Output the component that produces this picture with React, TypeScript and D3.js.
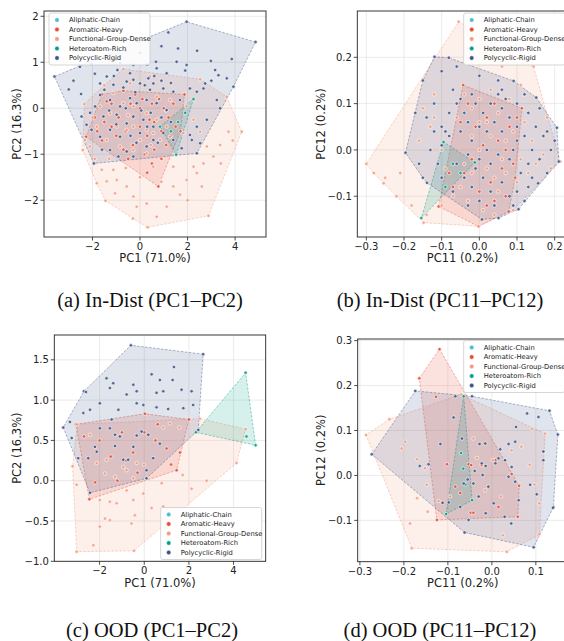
import React from "react";
import * as d3 from "d3";

type P = [number, number];

const CATEGORIES = ["Aliphatic-Chain", "Aromatic-Heavy", "Functional-Group-Dense", "Heteroatom-Rich", "Polycyclic-Rigid"];
const COLORS = ["#4DBBD5", "#E64B35", "#F39B7F", "#00A087", "#3C5488"];

// ---------- Panel (a) In-Dist PC1-PC2 ----------
const aAliphatic: P[] = [];
const aAromatic: P[] = [
  [-0.7, 0.38], [1.87, 0.3], [1.7, -0.5], [0.77, -1.7], [-2.27, -0.62], [-1.6, 0.3],
  [-1.2, 0.1], [-0.9, -0.2], [-0.6, -0.5], [-0.3, -0.2], [0, -0.4], [0.3, -0.6], [0.6, -0.3], [0.9, -0.5],
  [1.2, -0.2], [1.4, 0.1], [0.5, 0.1], [0.1, 0.2], [-0.4, 0.1], [-1.5, -0.3], [-1.0, -0.6], [-0.3, -0.8],
  [0.2, -1.0], [0.5, -1.2], [0.6, -0.9], [-0.7, -0.9], [1.1, -0.8], [0.9, -1.1], [-1.8, -0.5], [-1.2, -0.4],
  [0.0, 0.0], [0.8, 0.2], [1.5, -0.4],
  [-1.9, -0.2], [-1.4, 0.15], [-0.2, 0.3], [0.4, -0.25], [1.0, 0.0], [1.3, -0.6], [-0.5, -1.1], [0.3, -1.4], [-1.6, -0.7],
];
const aFunctional: P[] = [
  [-0.7, 0.85], [2.53, 0.63], [3.65, 0.25], [4.28, -0.51], [2.88, -2.34], [0.32, -2.59], [-1.45, -2.01],
  [-2.41, -0.91], [-2.34, 0.09],
  [-1.61, -1.34], [-1.12, -1.34], [-1.82, -1.63], [-1.4, -1.59], [-1.05, -1.85], [-0.56, -1.7], [-0.28, -1.92],
  [-0.14, -2.14], [0.28, -2.07], [0.7, -2.36], [1.12, -2.14], [1.68, -1.88], [1.96, -1.56], [2.25, -1.27],
  [2.67, -1.2], [2.39, -1.41], [3.37, -0.8], [3.72, -0.51], [3.09, -1.05], [2.53, -0.51], [2.81, -0.83],
  [-0.98, -1.56], [0.56, -1.27], [1.4, -1.27], [-2.11, -0.83], [-2.32, -0.69],
  [-1.68, 0.04], [-1.26, -0.11], [-0.98, -0.4], [-0.56, -0.47], [-0.28, -0.4], [0, -0.69], [0.28, -0.47],
  [0.56, -0.54], [0.84, -0.69], [1.12, -0.4], [1.26, -0.62], [0.7, -0.25], [0.28, -0.11], [-0.28, 0.04],
  [-0.7, 0.11], [-1.12, 0.33], [0.7, 0.25], [1.26, 0.18], [1.96, 0.04], [2.25, -0.25], [1.82, -0.54],
  [-0.84, -0.83], [-0.28, -0.91], [0.28, -0.98], [-1.4, -0.69], [-1.82, -0.4], [-0.42, 0.54], [0.42, 0.69],
  [-1.9, -1.1], [-1.3, -1.1], [-0.6, -1.3], [0.0, -1.5], [0.9, -1.6], [1.4, -1.7], [2.0, -2.0], [2.6, -1.7],
  [3.4, -1.2], [3.9, -0.7], [-0.3, -2.4], [1.1, -0.05], [-0.5, -0.15], [0.45, -0.8], [-1.5, 0.5], [-2.0, -0.2],
];
const aHetero: P[] = [[2.25, 0.2], [0.84, -0.4], [1.52, -1.01], [1.9, -0.1], [1.3, -0.5], [1.6, -0.3]];
const aPoly: P[] = [
  [-3.6, 0.69], [1.96, 1.88], [4.86, 1.44], [2.39, -0.98], [-1.94, -1.2],
  [-3.0, 0.41], [-2.53, 0.9], [-2.04, 0.96], [-2.48, 0.31], [-1.68, 0.29], [-0.95, 0.83], [-0.84, 0.98],
  [0.67, 1.01], [1.19, 1.65], [0.7, 0.87], [1.12, 0.76], [1.9, 0.82], [2.98, 1.03], [3.86, 1.07], [3.16, 0.83],
  [3.3, 0.72], [2.67, 0.43], [2.1, 0.43], [2.39, 0.36], [3.23, 0.18], [3.37, 0.0], [2.81, -0.25], [2.39, -0.4],
  [2.1, -0.58], [2.18, -0.69], [1.75, -0.87], [-2.46, -0.18], [-2.25, -0.36], [-2.04, -0.47], [-1.68, -0.62],
  [-1.26, -0.91], [-0.91, -1.05], [-0.56, -0.94], [-0.28, -1.05], [0.28, -0.83], [0.56, -0.69], [-1.68, 0.54],
  [-1.4, 0.69], [-1.12, 0.51], [-0.56, 0.58], [-0.28, 0.62], [0, 0.54], [0.35, 0.65], [0.56, 0.54], [0.98, 0.43],
  [1.4, 0.36], [1.68, 0.18], [-1.26, 0.18], [-0.84, 0.04], [-0.42, 0.22], [-0.14, 0.11], [0.28, 0.18], [0.7, 0.11],
  [1.12, -0.04], [-0.98, -0.14], [-0.56, -0.33], [-0.28, -0.18], [0.14, -0.25], [0.56, -0.4], [0.98, -0.54],
  [-1.26, -0.47], [-0.84, -0.62], [0, -0.54], [-1.54, -0.18], [-1.89, 0.04], [1.4, -0.69], [2.53, -0.76],
  [-1.05, 1.05], [0, 1.2], [-0.42, 0.76], [1.54, 1.01], [0.42, 0.4], [-1.26, 1.16], [-0.28, 0.94], [1.96, 0.94],
  [2.74, 0.54], [3.65, 0.65], [3.93, 0.47],
  [-1.5, 0.4], [-1.1, 0.7], [-0.7, 0.45], [-0.2, 0.35], [0.2, 0.5], [0.6, 0.7], [0.9, 0.6], [1.3, 0.55],
  [-1.3, -0.05], [-0.6, 0.0], [0.05, -0.05], [0.45, -0.1], [0.9, -0.2], [1.3, -0.3], [-1.0, -0.35], [-0.4, -0.6],
  [0.3, -0.4], [0.75, -0.75], [-0.15, -0.75], [-1.6, -0.9], [-2.1, -0.1], [-2.8, 0.6], [-0.1, 1.45], [0.9, 1.35],
  [2.4, 1.25], [3.0, 0.6], [-0.6, 1.25], [1.6, 1.3], [-1.9, 0.75], [0.3, 0.95],
];

// ---------- Panel (b) In-Dist PC11-PC12 ----------
const bAliphatic: P[] = [];
const bAromatic: P[] = [
  [-0.043, 0.14], [0.113, 0.09], [0.095, -0.06], [0.078, -0.133], [-0.002, -0.165], [-0.108, -0.122],
  [-0.03, 0.1], [-0.01, 0.05], [0.02, 0.07], [0.05, 0.02], [0.08, 0.05], [0.06, -0.04], [0.03, -0.07],
  [0.0, -0.09], [-0.04, -0.05], [-0.07, -0.08], [0.04, -0.11], [0.07, -0.1], [0.01, 0.01], [-0.02, -0.02],
  [0.1, 0.07], [0.09, -0.03], [0.04, 0.1], [-0.05, 0.06], [-0.08, -0.05], [0.02, -0.12], [0.07, 0.0],
];
const bFunctional: P[] = [
  [-0.3, -0.03], [-0.055, 0.277], [0.144, 0.18], [0.215, -0.025], [-0.002, -0.165], [-0.148, -0.157], [-0.254, -0.072],
  [-0.25, -0.06], [-0.21, -0.05], [-0.18, -0.12], [-0.15, 0.09], [-0.12, 0.07], [-0.13, 0.05], [-0.12, 0.12],
  [-0.09, -0.04], [-0.06, 0.07], [-0.04, 0.12], [-0.02, 0.09], [0.0, 0.11], [0.02, 0.06], [0.03, 0.03],
  [0.05, 0.08], [0.07, 0.02], [0.09, 0.04], [0.11, -0.02], [0.13, -0.05], [0.15, -0.03], [0.17, -0.01],
  [0.14, 0.02], [0.1, -0.07], [0.07, -0.05], [0.05, -0.09], [0.02, -0.04], [0.0, 0.0], [-0.02, -0.05],
  [-0.04, -0.03], [-0.05, -0.08], [0.01, -0.13], [0.04, -0.14], [-0.07, -0.1], [0.08, 0.11], [0.11, 0.14],
  [-0.02, 0.03], [0.06, -0.02], [0.12, 0.06], [-0.1, -0.12], [0.03, 0.13],
  [-0.28, -0.05], [-0.22, -0.1], [-0.14, -0.14], [-0.08, 0.2], [-0.03, 0.22], [0.06, 0.18], [0.12, 0.12],
  [0.18, 0.07], [0.19, -0.04], [0.09, -0.13], [-0.1, 0.0], [-0.16, 0.02], [0.0, 0.06], [0.04, -0.06], [-0.03, -0.11],
];
const bHetero: P[] = [[-0.154, -0.147], [-0.095, 0.017], [-0.012, -0.027], [-0.07, -0.03], [-0.05, -0.05], [-0.09, -0.08]];
const bPoly: P[] = [
  [-0.196, -0.006], [-0.119, 0.201], [-0.081, 0.199], [0.091, 0.149], [0.151, 0.113], [0.206, 0.048],
  [0.211, -0.025], [0.156, -0.072], [0.104, -0.128], [0.051, -0.147], [0.007, -0.15], [-0.139, -0.071],
  [-0.17, 0.08], [-0.14, 0.07], [-0.12, 0.04], [-0.1, 0.05], [-0.09, 0.04], [-0.08, 0.03], [-0.13, 0.0],
  [-0.11, -0.03], [-0.1, 0.01], [-0.06, 0.1], [-0.05, 0.11], [-0.04, 0.08], [-0.03, 0.06], [-0.05, 0.04],
  [-0.02, 0.02], [0.0, 0.05], [0.01, 0.08], [0.03, 0.1], [0.05, 0.12], [0.06, 0.13], [0.04, 0.06], [0.06, 0.04],
  [0.08, 0.07], [0.1, 0.05], [0.12, 0.03], [0.15, 0.05], [0.17, 0.03], [0.19, 0.0], [0.16, -0.02], [0.13, -0.03],
  [0.11, -0.05], [0.08, -0.02], [0.05, -0.01], [0.03, -0.03], [0.0, -0.02], [-0.03, -0.01], [-0.06, -0.03],
  [-0.04, -0.06], [-0.02, -0.08], [0.01, -0.06], [0.03, -0.09], [0.06, -0.07], [0.08, -0.1], [0.1, -0.09],
  [0.13, -0.08], [0.04, -0.12], [0.0, -0.11], [-0.03, -0.12], [-0.07, -0.09], [0.07, 0.11], [0.1, 0.1],
  [0.13, 0.08], [-0.08, 0.08], [-0.1, -0.06], [0.02, 0.0], [0.09, 0.0], [0.14, 0.0], [0.18, 0.04], [0.12, 0.12],
  [-0.02, 0.12],
  [-0.15, 0.15], [-0.1, 0.17], [-0.06, 0.18], [0.0, 0.16], [0.05, 0.15], [-0.16, -0.03], [-0.15, -0.06],
  [0.18, -0.05], [0.2, 0.02], [0.16, 0.09], [-0.01, -0.04], [0.02, 0.04], [-0.07, 0.13], [0.09, -0.12],
  [0.12, -0.11], [-0.12, 0.1], [0.06, 0.09], [-0.01, 0.1], [0.1, 0.02], [0.14, -0.06],
];

// ---------- Panel (c) OOD PC1-PC2 ----------
const cAliphatic: P[] = [];
const cAromatic: P[] = [
  [-3.06, 0.7], [0.03, 0.83], [2.0, 0.76], [1.45, 0.13], [-2.46, -0.23],
  [-2.0, 0.5], [-1.5, 0.3], [-1.0, 0.6], [-0.5, 0.35], [0.0, 0.6], [0.5, 0.5], [1.0, 0.4], [1.2, 0.2],
  [-0.3, 0.1], [-1.2, 0.0], [-2.2, -0.02], [-0.8, 0.25], [0.6, 0.7], [-2.7, 0.55], [1.6, 0.35],
];
const cFunctional: P[] = [
  [-3.21, 0.18], [-3.0, 0.7], [2.49, 0.77], [4.54, 0.64], [4.13, 0.22], [-0.46, -0.87], [-3.03, -0.88],
  [-3.03, -0.05], [-1.99, -0.24], [-1.54, -0.26], [-1.24, -0.28], [-0.49, -0.24], [-0.42, -0.43], [-0.04, -0.16],
  [0.33, -0.34], [0.85, -0.32], [0.78, -0.03], [-1.76, -0.47], [-1.54, -0.49], [-1.99, -0.57], [-2.28, -0.8],
  [-0.57, -0.53], [2.79, 0.0], [2.12, -0.1], [1.72, 0.07], [-2.43, 0.57], [-2.13, 0.22], [-1.69, 0.26],
  [-1.76, 0.09], [-1.31, 0.05], [-0.79, 0.13], [-0.34, 0.22], [-0.01, 0.2], [0.85, 0.66], [1.15, 0.71],
  [1.57, 0.66], [-0.94, 0.17], [-0.49, 0.03], [-0.79, -0.12], [0.1, 0.03],
];
const cHetero: P[] = [[2.31, 0.6], [4.54, 1.34], [4.99, 0.44], [4.58, 0.55]];
const cPoly: P[] = [
  [-3.63, 0.66], [-2.7, 1.11], [-0.6, 1.68], [2.64, 1.57], [2.42, 0.63], [0.1, 0.03], [-2.43, -0.15],
  [-3.25, 0.53], [-2.43, 0.88], [-2.61, 1.1], [-1.99, 0.96], [-1.69, 1.27], [-1.39, 1.21], [-1.54, 1.15],
  [-0.79, 1.07], [-0.49, 1.19], [-0.34, 1.11], [-0.04, 0.94], [0.33, 1.32], [0.55, 1.09], [0.85, 1.11],
  [1.27, 1.25], [1.33, 1.41], [1.67, 1.13], [2.12, 1.11], [2.19, 0.94], [1.75, 0.9], [1.07, 0.89], [0.55, 0.91],
  [-1.16, 0.88], [-1.46, 0.76], [-1.99, 0.65], [-1.54, 0.65], [-1.31, 0.57], [-1.09, 0.55], [-0.34, 0.56],
  [-0.12, 0.61], [0.18, 0.57], [0.7, 0.46], [0.4, 0.28], [0.1, 0.13], [-0.49, 0.42], [-0.94, 0.26], [-1.31, 0.43],
  [-2.21, 0.42], [-2.13, 0.36], [-2.51, 0.28], [-2.96, 0.28], [-3.33, 0.73], [-0.72, 0.26], [0.7, 1.25],
  [-0.34, 0.96], [-2.73, 0.84],
];

// ---------- Panel (d) OOD PC11-PC12 ----------
const dAliphatic: P[] = [];
const dAromatic: P[] = [
  [-0.119, 0.281], [-0.165, 0.216], [-0.125, -0.099], [0.059, -0.092], [0.062, -0.023], [0.045, 0.003],
  [-0.127, 0.175], [-0.053, 0.025], [-0.047, 0.023], [-0.072, -0.039], [-0.048, -0.083], [-0.042, -0.083],
  [0.015, -0.07], [0.008, 0.034], [-0.023, 0.023], [-0.102, 0.025], [-0.083, -0.025],
];
const dFunctional: P[] = [
  [-0.286, 0.09], [-0.233, 0.125], [-0.07, 0.18], [0.121, 0.093], [0.106, -0.133], [0.034, -0.17], [-0.182, -0.162],
  [-0.205, 0.06], [-0.197, 0.075], [-0.17, 0.036], [-0.152, 0.016], [-0.148, -0.021], [-0.17, -0.051],
  [-0.146, -0.081], [-0.186, -0.107], [-0.121, -0.057], [-0.095, -0.047], [-0.042, 0.082], [-0.034, 0.039],
  [0.002, 0.034], [0.021, -0.047], [-0.015, -0.033], [0.025, -0.133], [0.045, 0.056], [0.067, 0.064],
  [0.091, 0.104], [0.086, 0.024], [0.097, -0.02], [0.108, -0.062], [0.108, -0.13], [0.117, 0.053],
];
const dHetero: P[] = [[-0.064, 0.176], [-0.104, -0.086], [-0.045, -0.055], [-0.065, 0.015], [-0.07, 0.05], [-0.06, -0.02]];
const dPoly: P[] = [
  [-0.273, 0.047], [-0.174, 0.188], [-0.045, 0.176], [0.131, 0.144], [0.15, 0.091], [0.14, -0.07],
  [0.095, -0.16], [-0.062, -0.127],
  [-0.144, 0.025], [-0.164, 0.021], [-0.117, 0.07], [-0.087, 0.129], [-0.083, 0.176], [-0.112, -0.061],
  [-0.098, -0.06], [-0.072, -0.07], [-0.053, -0.099], [-0.028, 0.07], [-0.015, 0.071], [0.019, 0.058],
  [0.038, 0.07], [0.053, 0.075], [0.055, 0.108], [0.08, 0.138], [0.106, 0.13], [-0.014, 0.021], [-0.023, 0.027],
  [0.008, 0.027], [0.015, 0.038], [0.03, 0.034], [0.045, 0.019], [0.038, -0.003], [0.053, -0.014], [0.061, -0.055],
  [0.087, -0.021], [0.102, -0.042], [0.117, 0.034], [0.117, 0.053], [0.139, -0.072], [0.044, -0.107],
  [0.029, -0.092], [0.004, -0.062], [-0.014, -0.084], [-0.03, -0.047], [-0.042, -0.018], [-0.055, -0.009],
  [-0.064, -0.018], [-0.021, 0.001], [-0.008, -0.025], [-0.039, 0.01], [-0.068, 0.082],
];

// ---------- Axis ticks & labels ----------
const PC12_X_TICKS = [-2, 0, 2, 4];
const A_Y_TICKS = [-2, -1, 0, 1, 2];
const B_X_TICKS = [-0.3, -0.2, -0.1, 0.0, 0.1, 0.2];
const B_Y_TICKS = [-0.1, 0.0, 0.1, 0.2];
const C_Y_TICKS = [-1.0, -0.5, 0.0, 0.5, 1.0, 1.5];
const D_X_TICKS = [-0.3, -0.2, -0.1, 0.0, 0.1];
const D_Y_TICKS = [-0.1, 0.0, 0.1, 0.2, 0.3];
const CAPTIONS = ["(a) In-Dist (PC1–PC2)", "(b) In-Dist (PC11–PC12)", "(c) OOD (PC1–PC2)", "(d) OOD (PC11–PC12)"];

const fmt = (f: string) => (v: number) => d3.format(f)(v).replace("-", "−");

interface PanelProps {
  id: string;
  box: { x0: number; x1: number; y0: number; y1: number };
  xDomain: [number, number];
  yDomain: [number, number];
  xTicks: number[];
  yTicks: number[];
  xFmt: (v: number) => string;
  yFmt: (v: number) => string;
  xLabel: string;
  yLabel: string;
  xLabelX: number;
  yLabelX: number;
  series: P[][];
  legend: { x: number; y: number };
  caption: string;
  captionX: number;
  captionY: number;
}

function Panel(p: PanelProps) {
  const { box } = p;
  const x = d3.scaleLinear().domain(p.xDomain).range([box.x0, box.x1]);
  const y = d3.scaleLinear().domain(p.yDomain).range([box.y1, box.y0]);
  const clipId = `clip-${p.id}`;
  const fontAxis = "DejaVu Sans, sans-serif";
  const hulls = p.series.map((s) => (s.length >= 3 ? d3.polygonHull(s.map((d) => [x(d[0]), y(d[1])] as [number, number])) : null));
  const legendRowH = 9.5;
  const legendW = 101;
  const legendH = 52;
  return (
    <g>
      <defs>
        <clipPath id={clipId}>
          <rect x={box.x0} y={box.y0} width={box.x1 - box.x0} height={box.y1 - box.y0} />
        </clipPath>
      </defs>
      <g clipPath={`url(#${clipId})`}>
        {p.xTicks.map((t) => (
          <line key={"gx" + t} x1={x(t)} x2={x(t)} y1={box.y0} y2={box.y1} stroke="#e6e6e6" strokeWidth={0.8} />
        ))}
        {p.yTicks.map((t) => (
          <line key={"gy" + t} x1={box.x0} x2={box.x1} y1={y(t)} y2={y(t)} stroke="#e6e6e6" strokeWidth={0.8} />
        ))}
        {hulls.map((h, i) =>
          h ? (
            <path
              key={"h" + i}
              d={"M" + h.map((q) => q.join(",")).join("L") + "Z"}
              fill={COLORS[i]}
              fillOpacity={0.16}
              stroke={COLORS[i]}
              strokeOpacity={0.55}
              strokeWidth={0.8}
              strokeDasharray="2.5,1.5"
            />
          ) : null
        )}
        {p.series.map((s, i) =>
          s.map((d, j) => (
            <circle
              key={`pt${i}-${j}`}
              cx={x(d[0])}
              cy={y(d[1])}
              r={1.75}
              fill={COLORS[i]}
              fillOpacity={0.85}
              stroke="#fff"
              strokeWidth={0.6}
            />
          ))
        )}
      </g>
      <rect x={box.x0} y={box.y0} width={box.x1 - box.x0} height={box.y1 - box.y0} fill="none" stroke="#222" strokeWidth={0.9} />
      {p.xTicks.map((t) => (
        <g key={"tx" + t}>
          <line x1={x(t)} x2={x(t)} y1={box.y1} y2={box.y1 + 3.5} stroke="#222" strokeWidth={0.8} />
          <text x={x(t)} y={box.y1 + 12.8} textAnchor="middle" fontFamily={fontAxis} fontSize={10} fill="#222">
            {p.xFmt(t)}
          </text>
        </g>
      ))}
      {p.yTicks.map((t) => (
        <g key={"ty" + t}>
          <line x1={box.x0 - 3.5} x2={box.x0} y1={y(t)} y2={y(t)} stroke="#222" strokeWidth={0.8} />
          <text x={box.x0 - 5.5} y={y(t) + 3.6} textAnchor="end" fontFamily={fontAxis} fontSize={10} fill="#222">
            {p.yFmt(t)}
          </text>
        </g>
      ))}
      <text x={p.xLabelX} y={box.y1 + 25.3} textAnchor="middle" fontFamily={fontAxis} fontSize={11.5} fill="#222">
        {p.xLabel}
      </text>
      <text
        transform={`translate(${p.yLabelX},${(box.y0 + box.y1) / 2}) rotate(-90)`}
        textAnchor="middle"
        dy="0.35em"
        fontFamily={fontAxis}
        fontSize={11.5}
        fill="#222"
      >
        {p.yLabel}
      </text>
      <g transform={`translate(${p.legend.x},${p.legend.y})`}>
        <rect x={0} y={0} width={legendW} height={legendH} rx={2} fill="#fff" fillOpacity={0.85} stroke="#cccccc" strokeWidth={0.8} />
        {CATEGORIES.map((c, i) => (
          <g key={c} transform={`translate(0,${7 + i * legendRowH})`}>
            <circle cx={8} cy={0} r={2.2} fill={COLORS[i]} stroke="#fff" strokeWidth={0.4} />
            <text x={20} y={2.4} fontFamily={fontAxis} fontSize={6.75} fill="#222">
              {c}
            </text>
          </g>
        ))}
      </g>
      <text x={p.captionX} y={p.captionY} textAnchor="middle" fontFamily="Liberation Serif, Times New Roman, serif" fontSize={20.5} fill="#111">
        {p.caption}
      </text>
    </g>
  );
}

export default function App() {
  const panels: PanelProps[] = [
    {
      id: "a",
      box: { x0: 44, x1: 266, y0: 11, y1: 237 },
      xDomain: [-4.04, 5.3],
      yDomain: [-2.8, 2.115],
      xTicks: PC12_X_TICKS,
      yTicks: A_Y_TICKS,
      xFmt: fmt("d"),
      yFmt: fmt("d"),
      xLabel: "PC1 (71.0%)",
      yLabel: "PC2 (16.3%)",
      xLabelX: 155,
      yLabelX: 16.7,
      series: [aAliphatic, aAromatic, aFunctional, aHetero, aPoly],
      legend: { x: 49, y: 13 },
      caption: CAPTIONS[0],
      captionX: 150,
      captionY: 307,
    },
    {
      id: "b",
      box: { x0: 357.3, x1: 575, y0: 11, y1: 237 },
      xDomain: [-0.324, 0.254],
      yDomain: [-0.188, 0.3],
      xTicks: B_X_TICKS,
      yTicks: B_Y_TICKS,
      xFmt: fmt(".1f"),
      yFmt: fmt(".1f"),
      xLabel: "PC11 (0.2%)",
      yLabel: "PC12 (0.2%)",
      xLabelX: 462.5,
      yLabelX: 321.3,
      series: [bAliphatic, bAromatic, bFunctional, bHetero, bPoly],
      legend: { x: 463.7, y: 13 },
      caption: CAPTIONS[1],
      captionX: 440,
      captionY: 307,
    },
    {
      id: "c",
      box: { x0: 54.3, x1: 265.7, y0: 335, y1: 561.3 },
      xDomain: [-4.03, 5.44],
      yDomain: [-1.0, 1.808],
      xTicks: PC12_X_TICKS,
      yTicks: C_Y_TICKS,
      xFmt: fmt("d"),
      yFmt: fmt(".1f"),
      xLabel: "PC1 (71.0%)",
      yLabel: "PC2 (16.3%)",
      xLabelX: 160,
      yLabelX: 16.7,
      series: [cAliphatic, cAromatic, cFunctional, cHetero, cPoly],
      legend: { x: 160.7, y: 507.5 },
      caption: CAPTIONS[2],
      captionX: 152,
      captionY: 637,
    },
    {
      id: "d",
      box: { x0: 357.7, x1: 575, y0: 339, y1: 561.7 },
      xDomain: [-0.305, 0.189],
      yDomain: [-0.192, 0.3036],
      xTicks: D_X_TICKS,
      yTicks: D_Y_TICKS,
      xFmt: fmt(".1f"),
      yFmt: fmt(".1f"),
      xLabel: "PC11 (0.2%)",
      yLabel: "PC12 (0.2%)",
      xLabelX: 462.8,
      yLabelX: 321.3,
      series: [dAliphatic, dAromatic, dFunctional, dHetero, dPoly],
      legend: { x: 463.7, y: 340.5 },
      caption: CAPTIONS[3],
      captionX: 440,
      captionY: 637,
    },
  ];
  return (
    <div style={{ position: "absolute", left: 0, top: 0 }}>
      <svg width={564} height={641} style={{ display: "block", background: "#fff" }}>
        {panels.map((p) => (
          <Panel key={p.id} {...p} />
        ))}
      </svg>
    </div>
  );
}
